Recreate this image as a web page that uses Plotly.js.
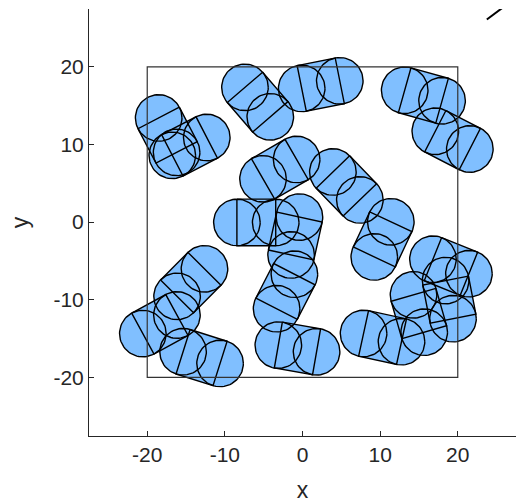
<!DOCTYPE html>
<html><head><meta charset="utf-8">
<script src="https://cdn.plot.ly/plotly-3.0.1.min.js"></script>
<style>html,body{margin:0;padding:0;background:#fff}#chart{width:517px;height:503px}</style>
</head><body><div id="chart"></div>
<script>
// Spherocylinder (capsule) data: centre, axis angle (degrees)
const capsuleIds = ['A','B','C','D','E','F','G','H','I','J','K','O','L','M','N','P','Q','R','S','T'];
const centerX = [-17.37,-14.55,-5.78, 2.35,15.57,19.33,-2.92, 5.65,-5.95,-0.93,10.31,-2.19,-14.39,-18.37,-13.00,-0.65,10.31,19.12,18.91,14.99];
const centerY = [ 11.20,  9.75,15.46,17.71,16.31,10.56, 6.82, 4.66,-0.04,-1.79,-2.22,-8.93, -7.79,-13.16,-17.45,-16.27,-14.87,-5.71,-9.98,-11.77];
const angleDeg = [-62.5, 27.4,-49.3, 11.3,-15.7,-27.2, 30.0,-46.0,  0.0, 77.6, 64.8, 62.7, 45.1, 28.6,-17.6, -9.9,-12.3,-22.0,-79.0,-74.0];
const capsuleLength = 5;   // distance between end-cap centres
const capsuleRadius = 3;
const boxHalf = 20;
const xTicks = [-20,-10,0,10,20];
const yTicks = [-20,-10,0,10,20];
const strayX = [23.74, 27.1];
const strayY = [26.1, 28.6];

const FILL = 'rgb(128,191,255)';
const N = 72;
const traces = [];
const olx = [], oly = [];

for (let i = 0; i < centerX.length; i++) {
  const t = angleDeg[i] * Math.PI / 180;
  const ux = Math.cos(t), uy = Math.sin(t);
  const px = -uy, py = ux;
  const h = capsuleLength / 2, R = capsuleRadius;
  const e1x = centerX[i] - h * ux, e1y = centerY[i] - h * uy;
  const e2x = centerX[i] + h * ux, e2y = centerY[i] + h * uy;
  // hull
  const fx = [], fy = [];
  for (let k = 0; k <= N / 2; k++) {
    const a = t - Math.PI / 2 + Math.PI * k / (N / 2);
    fx.push(e2x + R * Math.cos(a)); fy.push(e2y + R * Math.sin(a));
  }
  for (let k = 0; k <= N / 2; k++) {
    const a = t + Math.PI / 2 + Math.PI * k / (N / 2);
    fx.push(e1x + R * Math.cos(a)); fy.push(e1y + R * Math.sin(a));
  }
  fx.push(fx[0]); fy.push(fy[0]);
  traces.push({x: fx, y: fy, type: 'scatter', mode: 'lines', fill: 'toself',
    fillcolor: FILL, line: {width: 0, color: FILL}, hoverinfo: 'skip', name: capsuleIds[i]});
  // outlines: two full circles
  [[e1x, e1y], [e2x, e2y]].forEach(([cx, cy]) => {
    for (let k = 0; k <= N; k++) {
      const a = 2 * Math.PI * k / N;
      olx.push(cx + R * Math.cos(a)); oly.push(cy + R * Math.sin(a));
    }
    olx.push(null); oly.push(null);
  });
  // body rectangle
  olx.push(e1x + R * px, e2x + R * px, e2x - R * px, e1x - R * px, e1x + R * px, null);
  oly.push(e1y + R * py, e2y + R * py, e2y - R * py, e1y - R * py, e1y + R * py, null);
}
traces.push({x: olx, y: oly, type: 'scatter', mode: 'lines', line: {color: '#000', width: 1.4},
  hoverinfo: 'skip', connectgaps: false});
traces.push({x: strayX, y: strayY, type: 'scatter', mode: 'lines', line: {color: '#000', width: 2}, hoverinfo: 'skip'});

const font = 'Liberation Sans, Arial, Helvetica, sans-serif';
const axisCommon = {
  showgrid: false, zeroline: false, showline: true, linecolor: '#262626', linewidth: 1,
  ticks: 'inside', ticklen: 5, tickwidth: 1, tickcolor: '#262626', tickmode: 'array',
  tickfont: {family: font, size: 21, color: '#262626'}, fixedrange: true
};
const layout = {
  width: 517, height: 503, margin: {l: 89, r: 1, t: 9, b: 67, pad: 0},
  paper_bgcolor: '#fff', plot_bgcolor: '#fff', showlegend: false, hovermode: false,
  xaxis: Object.assign({}, axisCommon, {range: [-27.5, 27.5], tickvals: xTicks,
    ticktext: xTicks.map(String), title: {text: 'x', font: {family: font, size: 23, color: '#262626'}, standoff: 17}}),
  yaxis: Object.assign({}, axisCommon, {range: [-27.55, 27.45], tickvals: yTicks,
    ticktext: yTicks.map(String), title: {text: 'y', font: {family: font, size: 23, color: '#262626'}, standoff: 18}}),
  shapes: [{type: 'rect', xref: 'x', yref: 'y', x0: -boxHalf, x1: boxHalf, y0: -boxHalf, y1: boxHalf,
    line: {color: '#333', width: 1.2}, fillcolor: 'rgba(0,0,0,0)', layer: 'above'}]
};
Plotly.newPlot('chart', traces, layout, {staticPlot: true, displayModeBar: false});
</script></body></html>
